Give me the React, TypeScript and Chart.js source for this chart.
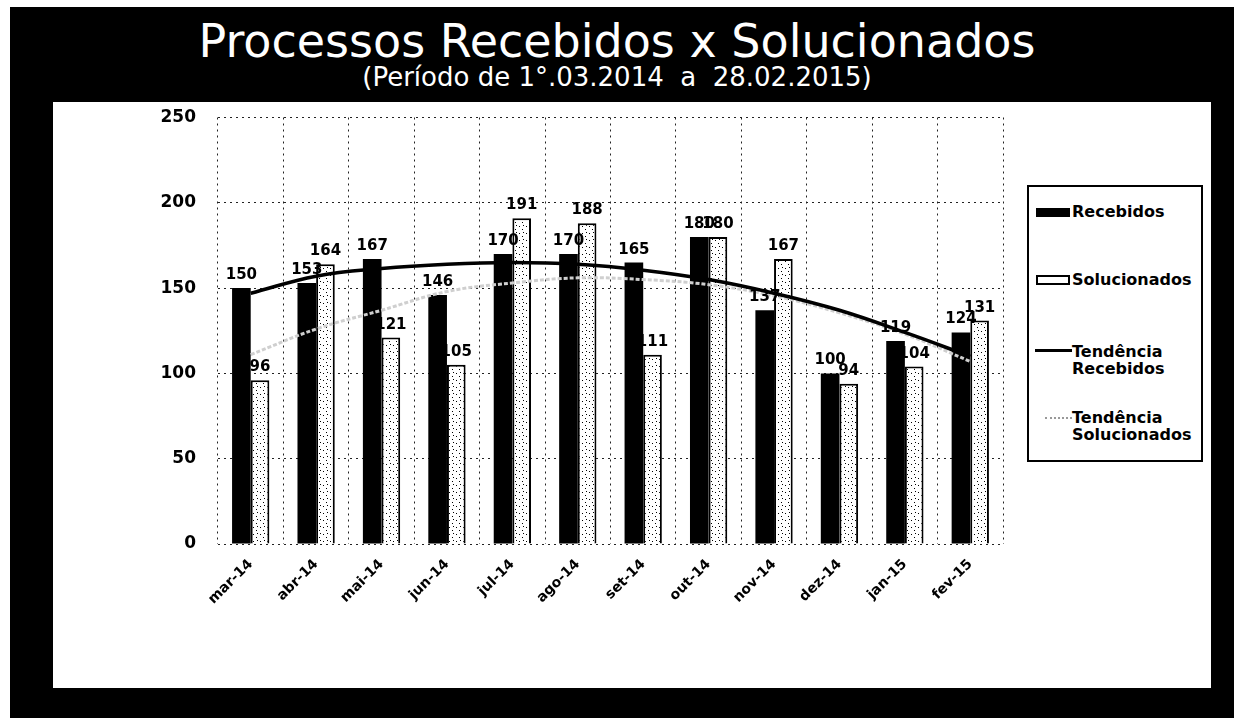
import React, { useEffect, useRef } from "react";
import { Chart, registerables } from "chart.js";

Chart.register(...registerables);

const categories = ["mar-14", "abr-14", "mai-14", "jun-14", "jul-14", "ago-14", "set-14", "out-14", "nov-14", "dez-14", "jan-15", "fev-15"];
const recebidos = [150, 153, 167, 146, 170, 170, 165, 180, 137, 100, 119, 124];
const solucionados = [96, 164, 121, 105, 191, 188, 111, 180, 167, 94, 104, 131];
const tendenciaRecebidos = [147, 157, 161.5, 164, 165, 164, 160.5, 155, 147, 137, 124, 110];
const tendenciaSolucionados = [111, 126, 137, 148, 153, 156, 155, 152, 145.5, 135.5, 123, 107];
const yMin = 0;
const yMax = 250;
const yStep = 50;

const FONT = "'DejaVu Sans', 'Liberation Sans', sans-serif";

function makeSpecklePattern(): CanvasPattern | string {
  const c = document.createElement("canvas");
  c.width = 7;
  c.height = 7;
  const g = c.getContext("2d");
  if (!g) return "#ffffff";
  g.fillStyle = "#ffffff";
  g.fillRect(0, 0, 7, 7);
  g.fillStyle = "#000000";
  g.fillRect(1, 2, 1, 1);
  g.fillRect(4, 5, 1, 1);
  g.fillRect(5, 1, 1, 1);
  return g.createPattern(c, "repeat") || "#ffffff";
}

const valueLabels = {
  id: "valueLabels",
  afterDatasetsDraw(chart: any) {
    const ctx = chart.ctx;
    ctx.save();
    ctx.font = `bold 15px ${FONT}`;
    ctx.fillStyle = "#000";
    ctx.textAlign = "center";
    ctx.textBaseline = "alphabetic";
    chart.data.datasets.forEach((ds: any, i: number) => {
      if (ds.type === "line") return;
      const meta = chart.getDatasetMeta(i);
      meta.data.forEach((el: any, j: number) => {
        ctx.fillText(String(ds.data[j]), el.x, el.y - 9);
      });
    });
    ctx.restore();
  },
};

function ChartCanvas() {
  const ref = useRef<HTMLCanvasElement | null>(null);
  useEffect(() => {
    if (!ref.current) return;
    const pattern = makeSpecklePattern();
    const chart = new Chart(ref.current, {
      type: "bar",
      data: {
        labels: categories,
        datasets: [
          {
            type: "bar",
            label: "Recebidos",
            data: recebidos,
            backgroundColor: "#000000",
            borderWidth: 0,
            order: 2,
          },
          {
            type: "bar",
            label: "Solucionados",
            data: solucionados,
            backgroundColor: pattern as any,
            borderColor: "#000000",
            borderWidth: 2,
            order: 2,
          },
          {
            type: "line",
            label: "Tendência Recebidos",
            data: tendenciaRecebidos,
            borderColor: "#000000",
            borderWidth: 3.5,
            pointRadius: 0,
            tension: 0.4,
            fill: false,
            order: 0,
          },
          {
            type: "line",
            label: "Tendência Solucionados",
            data: tendenciaSolucionados,
            borderColor: "#cfcfcf",
            borderWidth: 3,
            borderDash: [4, 2],
            pointRadius: 0,
            tension: 0.4,
            fill: false,
            order: 1,
          },
        ] as any,
      },
      options: {
        responsive: false,
        maintainAspectRatio: false,
        devicePixelRatio: 1,
        animation: false,
        layout: { padding: { left: 0, right: 231, top: 117.5, bottom: 0 } },
        plugins: {
          legend: { display: false },
          tooltip: { enabled: false },
          title: { display: false },
        },
        datasets: {
          bar: { categoryPercentage: 0.57, barPercentage: 1.0 },
        } as any,
        scales: {
          x: {
            offset: true,
            grid: { offset: true, color: "#222", lineWidth: 1, drawTicks: false },
            border: { display: false, dash: [2, 4] },
            ticks: {
              minRotation: 45,
              maxRotation: 45,
              autoSkip: false,
              padding: 12,
              color: "#000",
              font: { family: FONT, size: 14, weight: "bold" },
            },
            afterFit: (s: any) => {
              s.height = 174;
            },
          },
          y: {
            min: yMin,
            max: yMax,
            ticks: {
              stepSize: yStep,
              padding: 22,
              color: "#000",
              font: { family: FONT, size: 17, weight: "bold" },
            },
            grid: { color: "#222", lineWidth: 1, drawTicks: false },
            border: { display: false, dash: [2, 4] },
            afterFit: (s: any) => {
              s.width = 218;
            },
          },
        },
      } as any,
      plugins: [valueLabels],
    });
    return () => chart.destroy();
  }, []);
  return (
    <canvas
      ref={ref}
      width={1234}
      height={718}
      style={{ position: "absolute", left: 0, top: 0, width: 1234, height: 718 }}
    />
  );
}

const legendText: React.CSSProperties = {
  position: "absolute",
  left: 43,
  font: `bold 16px ${FONT}`,
  lineHeight: "17px",
  color: "#000",
  whiteSpace: "nowrap",
};

export default function App() {
  return (
    <div style={{ position: "fixed", left: 0, top: 0, width: 1234, height: 718, background: "#fff", overflow: "hidden" }}>
      <div style={{ position: "absolute", left: 10, top: 7, width: 1224, height: 711, background: "#000" }} />
      <div style={{ position: "absolute", left: 53, top: 102, width: 1158, height: 586, background: "#fff" }} />
      <div
        style={{
          position: "absolute",
          left: 0,
          top: 18,
          width: 1234,
          textAlign: "center",
          color: "#fff",
          fontFamily: FONT,
          fontSize: 46,
          lineHeight: "46px",
          whiteSpace: "nowrap",
        }}
      >
        Processos Recebidos x Solucionados
      </div>
      <div
        style={{
          position: "absolute",
          left: 0,
          top: 64,
          width: 1234,
          textAlign: "center",
          color: "#fff",
          fontFamily: FONT,
          fontSize: 26,
          lineHeight: "26px",
          whiteSpace: "pre",
        }}
      >
        {"(Período de 1°.03.2014  a  28.02.2015)"}
      </div>
      <ChartCanvas />
      <div
        style={{
          position: "absolute",
          left: 1027,
          top: 185,
          width: 172,
          height: 273,
          border: "2px solid #000",
          background: "#fff",
        }}
      >
        <div style={{ position: "absolute", left: 7, top: 21, width: 34, height: 9, background: "#000" }} />
        <div style={{ ...legendText, top: 15.6 }}>Recebidos</div>
        <div
          style={{
            position: "absolute",
            left: 7,
            top: 88,
            width: 30,
            height: 6,
            border: "2px solid #000",
            background: "#fff",
          }}
        />
        <div style={{ ...legendText, top: 84 }}>Solucionados</div>
        <div style={{ position: "absolute", left: 6, top: 162, width: 37, height: 0, borderTop: "3px solid #000" }} />
        <div style={{ ...legendText, top: 155.6 }}>
          Tendência
          <br />
          Recebidos
        </div>
        <div style={{ position: "absolute", left: 16, top: 230, width: 27, height: 0, borderTop: "2px dotted #999" }} />
        <div style={{ ...legendText, top: 222 }}>
          Tendência
          <br />
          Solucionados
        </div>
      </div>
    </div>
  );
}
